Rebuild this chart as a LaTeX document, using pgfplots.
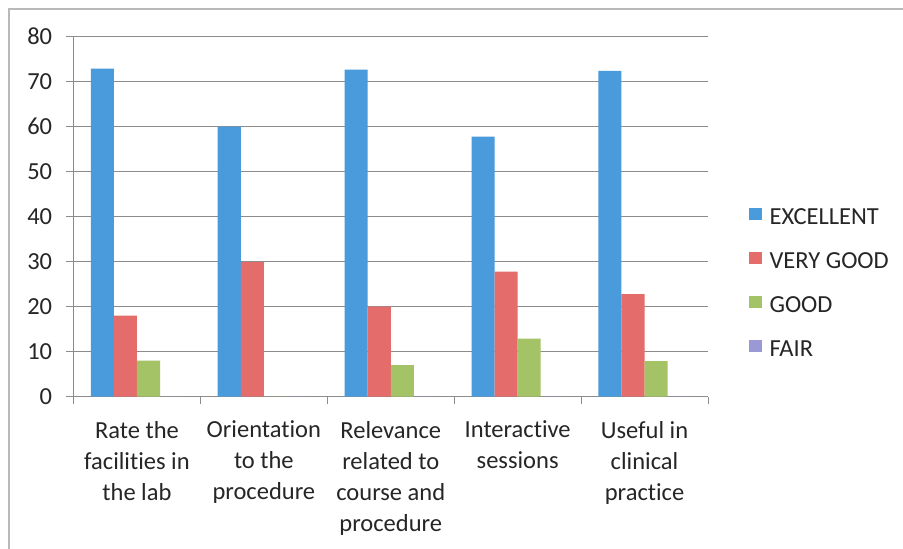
\documentclass[border=0pt]{standalone}
\usepackage{fontspec}
\setmainfont{Carlito}[Ligatures={NoCommon,NoRare,NoContextual}]
\usepackage{pgfplots}
\pgfplotsset{compat=1.18}
\definecolor{cblue}{HTML}{4A9BDC}
\definecolor{cred}{HTML}{E46C6A}
\definecolor{cgreen}{HTML}{A4C266}
\definecolor{cpurple}{HTML}{9B98D6}
\definecolor{cgrid}{HTML}{8C8C8C}
\definecolor{ctext}{HTML}{262626}
\newcommand{\cfont}{\fontsize{24.5}{31}\selectfont}
\begin{document}
\cfont
\begin{tikzpicture}[x=1pt,y=1pt]
\useasboundingbox (0,0) rectangle (903,549);
\fill[white] (0,0) rectangle (903,549);
\draw[gray!55, line width=1.2pt] (9,0) -- (9,540) -- (903,540);
\begin{axis}[
  at={(73.5pt,152.3pt)}, anchor=south west,
  scale only axis, width=634.5pt, height=360pt,
  ymin=0, ymax=80, ytick={0,10,...,80},
  xmin=-0.5, xmax=4.5,
  xtick={0,1,2,3,4},
  xticklabels={{Rate the\\facilities in\\the lab},{Orientation\\to the\\procedure},{Relevance\\related to\\course and\\procedure},{Interactive\\sessions},{Useful in\\clinical\\practice}},
  minor xtick={-0.5,0.5,...,4.5},
  major x tick style={draw=none},
  tick align=outside, major tick length=7pt, minor tick length=7pt,
  tick style={cgrid, line width=0.8pt},
  axis x line*=bottom, axis y line*=left,
  axis line style={cgrid, line width=0.8pt},
  ymajorgrids, grid style={cgrid, line width=0.8pt},
  /pgf/number format/assume math mode=true,
  tick label style={font=\cfont, text=ctext},
  xticklabel style={align=center, yshift=-9pt},
  yticklabel style={xshift=-6pt},
  bar width=0.1818,
  legend style={at={(1.065,0.5291)}, anchor=north west, draw=none, fill=none,
    inner sep=0pt, font=\cfont, text=ctext, row sep=20.1pt,
    nodes={inner sep=0pt, text height=18pt, text depth=6pt},
    /tikz/every odd column/.append style={column sep=7.6pt}},
  legend cell align=left,
  legend image code/.code={\fill[#1,draw=none] (0pt,-1.6pt) rectangle (12.5pt,10.9pt);},
]
\addplot[ybar, bar shift=-0.2727, fill=cblue, draw=none] coordinates {(0,72.9) (1,60) (2,72.7) (3,57.8) (4,72.4)};
\addplot[ybar, bar shift=-0.0909, fill=cred, draw=none] coordinates {(0,18) (1,29.9) (2,20) (3,27.8) (4,22.8)};
\addplot[ybar, bar shift=0.0909, fill=cgreen, draw=none] coordinates {(0,8) (1,0) (2,7) (3,12.9) (4,7.9)};
\addplot[ybar, bar shift=0.2727, fill=cpurple, draw=none] coordinates {(0,0) (1,0) (2,0) (3,0) (4,0)};
\legend{EXCELLENT,VERY GOOD,GOOD,FAIR}
\end{axis}
\end{tikzpicture}
\end{document}
